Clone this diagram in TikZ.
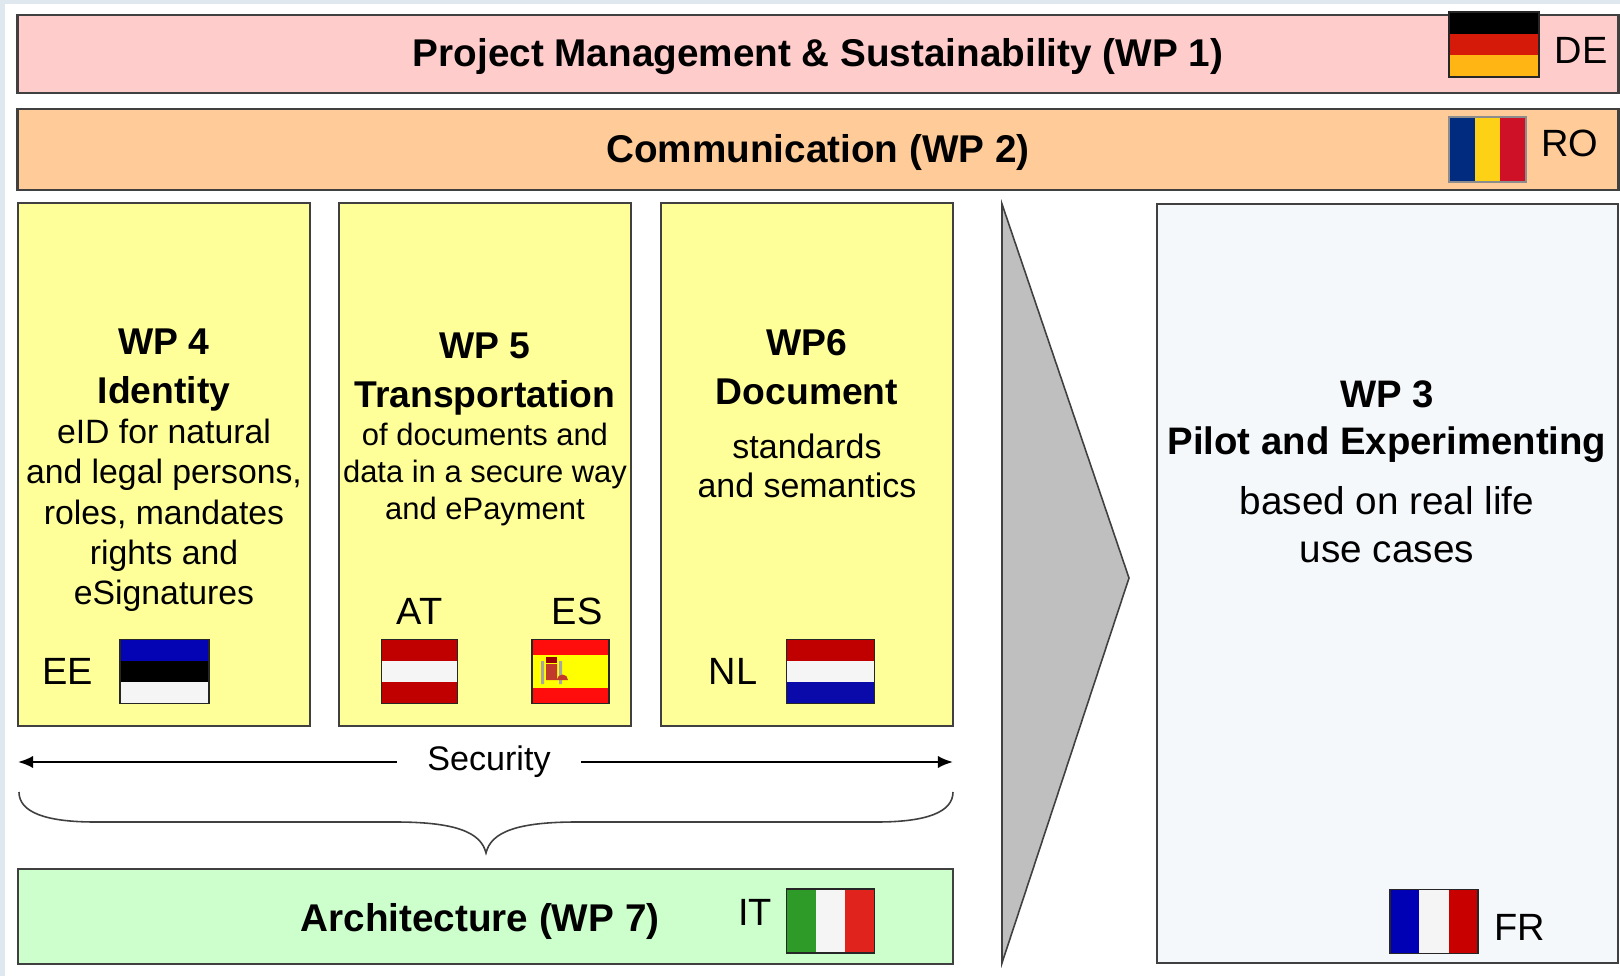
\documentclass[tikz,border=0pt]{standalone}
\usepackage{fontspec}
\setmainfont{Liberation Sans}
\usepackage{tikz}
\usetikzlibrary{calc}
\usetikzlibrary{positioning, arrows.meta}
\definecolor{bgblue}{HTML}{DFE7EF}
\definecolor{boxline}{HTML}{404040}
\definecolor{pmpink}{HTML}{FFCCCC}
\definecolor{comorange}{HTML}{FFCC99}
\definecolor{wpyellow}{HTML}{FFFF99}
\definecolor{archgreen}{HTML}{CCFFCC}
\definecolor{pilotgray}{HTML}{F4F8FB}
\definecolor{arrowgray}{HTML}{BFBFBF}
\definecolor{dered}{HTML}{D61A0A}
\definecolor{degold}{HTML}{FFB514}
\definecolor{roblue}{HTML}{002B7F}
\definecolor{royellow}{HTML}{FCD116}
\definecolor{rored}{HTML}{CE1126}
\definecolor{eeblue}{HTML}{0404B4}
\definecolor{flagwhite}{HTML}{F5F5F5}
\definecolor{atred}{HTML}{C00000}
\definecolor{esred}{HTML}{FF0C0C}
\definecolor{esyellow}{HTML}{FFFF00}
\definecolor{esarms}{HTML}{C0392B}
\definecolor{nlblue}{HTML}{0A0AAA}
\definecolor{itgreen}{HTML}{2E9A28}
\definecolor{itred}{HTML}{E0231C}
\definecolor{frblue}{HTML}{0000B4}
\definecolor{frred}{HTML}{C80000}
\tikzstyle{bar} = [draw=boxline, line width=0.6pt, minimum width=16cm, inner sep=0pt]
\tikzstyle{bartext} = [inner sep=0pt, anchor=base, font=\fontsize{11}{13}\selectfont\bfseries]
\tikzstyle{wpbox} = [draw=boxline, line width=0.6pt, fill=wpyellow, minimum width=2.92cm, minimum height=5.23cm, inner sep=0pt]
\tikzstyle{wptitle} = [align=center, inner sep=0pt, anchor=north, font=\fontsize{10.6}{13.9}\selectfont\bfseries]
\tikzstyle{wptext} = [align=center, inner sep=0pt, anchor=north, font=\fontsize{9.6}{11.5}\selectfont]
\tikzstyle{cc} = [inner sep=0pt, font=\fontsize{10.8}{13}\selectfont]
\tikzstyle{arrow} = [line width=0.6pt, -{Latex[length=4.3pt,width=3.5pt]}]
\tikzset{
  flag/.style={draw=black!85, line width=0.35pt, inner sep=0pt, minimum height=0.64cm},
  hflag/.style n args={3}{flag, path picture={
    \fill[#1] (path picture bounding box.north west) rectangle ($(path picture bounding box.north east)!1/3!(path picture bounding box.south east)$);
    \fill[#2] ($(path picture bounding box.north west)!1/3!(path picture bounding box.south west)$) rectangle ($(path picture bounding box.north east)!2/3!(path picture bounding box.south east)$);
    \fill[#3] ($(path picture bounding box.north west)!2/3!(path picture bounding box.south west)$) rectangle (path picture bounding box.south east);
  }},
  vflag/.style n args={3}{flag, path picture={
    \fill[#1] (path picture bounding box.north west) rectangle ($(path picture bounding box.south west)!1/3!(path picture bounding box.south east)$);
    \fill[#2] ($(path picture bounding box.north west)!1/3!(path picture bounding box.north east)$) rectangle ($(path picture bounding box.south west)!2/3!(path picture bounding box.south east)$);
    \fill[#3] ($(path picture bounding box.north west)!2/3!(path picture bounding box.north east)$) rectangle (path picture bounding box.south east);
  }},
  esflag/.style={flag, path picture={
    \fill[esred] (path picture bounding box.north west) rectangle (path picture bounding box.south east);
    \fill[esyellow] ($(path picture bounding box.north west)!1/4!(path picture bounding box.south west)$) rectangle ($(path picture bounding box.north east)!3/4!(path picture bounding box.south east)$);
  }}
}

\begin{document}
\begin{tikzpicture}[x=0.01cm, y=-0.01cm, node distance=1cm, on grid]
    \useasboundingbox (0,0) rectangle (1620,976);
    \fill[bgblue] (0,0) rectangle (1620,976);
    \fill[white] (5,4) rectangle (1620,976);
    % top bars
    \node[bar, fill=pmpink, minimum height=0.78cm] (wp_1) at (818,54) {};
    \node[bar, fill=comorange, minimum height=0.81cm] (wp_2) at (818,149.5) {};
    \node[bartext] (wp_1_text) at (818,67) {Project Management \& Sustainability (WP 1)};
    \node[bartext] (wp_2_text) at (818,163) {Communication (WP 2)};
    \node[hflag={black}{dered}{degold}, minimum width=0.9cm, minimum height=0.65cm] (flag_de) at (1494,44.5) {};
    \node[vflag={roblue}{royellow}{rored}, draw=black!45, minimum width=0.77cm, minimum height=0.65cm] (flag_ro) at (1487.5,149.5) {};
    \node[cc][below right=0.055cm and 0.87cm of flag_de] (de) {DE};
    \node[cc][above right=0.065cm and 0.82cm of flag_ro] (ro) {RO};
    % work packages
    \node[wpbox] (wp_4) at (164,464.5) {};
    \node[wpbox] (wp_5) at (485,464.5) {};
    \node[wpbox] (wp_6) at (807,464.5) {};
    \node[wptitle] (wp_4_title) at (164,328.5) {WP 4\\Identity};
    \node[wptext] (wp_4_text) at (164,418) {eID for natural\\and legal persons,\\roles, mandates\\rights and\\eSignatures};
    \node[wptitle] (wp_5_title) at (485,332.5) {WP 5\\Transportation};
    \node[wptext, font=\fontsize{8.8}{10.5}\selectfont] (wp_5_text) at (485,422.5) {of documents and\\data in a secure way\\and ePayment};
    \node[wptitle] (wp_6_title) at (807,328.5) {WP6\\Document};
    \node[wptext, font=\fontsize{9.65}{11.1}\selectfont] (wp_6_text) at (807,433) {standards\\and semantics};
    % flags of the work packages
    \node[hflag={eeblue}{black}{flagwhite}, minimum width=0.89cm] (flag_ee) at (164.5,671.5) {};
    \node[hflag={atred}{flagwhite}{atred}, minimum width=0.76cm] (flag_at) at (419.5,671.5) {};
    \node[esflag, minimum width=0.77cm] (flag_es) at (570.5,671.5) {};
    \node[hflag={atred}{flagwhite}{nlblue}, minimum width=0.88cm] (flag_nl) at (830.5,671.5) {};
    \node[cc][left=0.965cm of flag_ee] (ee) {EE};
    \node[cc][above=0.6cm of flag_at] (at) {AT};
    \node[cc][above right=0.6cm and 0.065cm of flag_es] (es) {ES};
    \node[cc][left=0.975cm of flag_nl] (nl) {NL};
    % coat of arms
    \fill[gray!70] (541,661) rectangle (544,684) (559,661) rectangle (562,684);
    \fill[esarms] (546,664) rectangle (557,680) arc[start angle=180, end angle=360, radius=5.5] -- cycle;
    \fill[atred!80!black] (546,657) rectangle (557,663);
    % security
    \node[cc, font=\fontsize{9.7}{11}\selectfont, inner xsep=0.3cm] (security) at (489,762) {Security};
    \coordinate (sec_l) at (18,762);
    \coordinate (sec_r) at (953,762);
    \path[arrow]
    (security) edge (sec_l)
    	edge (sec_r);
    \draw[black!75, line width=0.45pt] (19,792) .. controls (19,812) and (45,822) .. (95,822) -- (395,822)
      .. controls (455,822) and (481,832) .. (486,853) .. controls (491,832) and (517,822) .. (577,822)
      -- (877,822) .. controls (927,822) and (953,812) .. (953,792);
    % architecture
    \node[bar, fill=archgreen, minimum width=9.35cm, minimum height=0.95cm] (wp_7) at (485.5,916.5) {};
    \node[bartext] (wp_7_text) at (480,931) {Architecture (WP 7)};
    \node[vflag={itgreen}{flagwhite}{itred}, minimum width=0.88cm] (flag_it) at (830.5,921) {};
    \node[cc][above left=0.09cm and 0.755cm of flag_it] (it) {IT};
    % pilot
    \filldraw[fill=arrowgray, draw=black!75, line width=0.45pt] (1002,204) -- (1129,578) -- (1002,963) -- cycle;
    \node[bar, fill=pilotgray, minimum width=4.61cm, minimum height=7.59cm] (wp_3) at (1387.5,583.5) {};
    \node[wptitle, font=\fontsize{10.9}{13.5}\selectfont\bfseries] (wp_3_title) at (1387,380) {WP 3\\Pilot and Experimenting};
    \node[wptext, font=\fontsize{11}{13.5}\selectfont] (wp_3_text) at (1387,486) {based on real life\\use cases};
    \node[vflag={frblue}{flagwhite}{frred}, minimum width=0.88cm] (flag_fr) at (1434,921.5) {};
    \node[cc][below right=0.06cm and 0.86cm of flag_fr] (fr) {FR};
\end{tikzpicture}
\end{document}
